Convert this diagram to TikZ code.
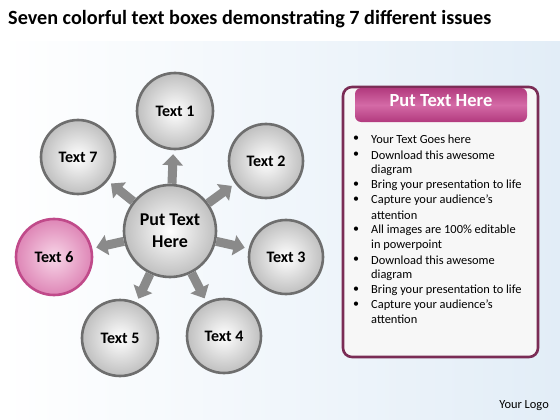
\documentclass[tikz,border=0pt]{standalone}
\usepackage{fontspec}
\setmainfont{Carlito}
\usetikzlibrary{arrows.meta}
\definecolor{ring}{HTML}{6E6E6E}
\definecolor{pinkring}{HTML}{C04A8A}
\definecolor{pinkin}{HTML}{F8D6E8}
\definecolor{pinkout}{HTML}{DE86B6}
\definecolor{maroon}{HTML}{7A2C55}
\definecolor{hdrA}{HTML}{B23A7E}
\definecolor{hdrB}{HTML}{D46AA6}
\definecolor{arrowgray}{HTML}{8A8A8A}
\definecolor{bgblue}{HTML}{E2EDF7}
\tikzset{
  bub/.style={circle, minimum size=#1, inner sep=0pt, draw=ring, line width=2.6pt,
    inner color=white, outer color=gray!50, align=center,
    font=\bfseries\fontsize{16}{18}\selectfont},
  pinkbub/.style={bub=#1, draw=pinkring, inner color=pinkin, outer color=pinkout},
  arr/.style={draw=arrowgray, line width=9pt,
    -{Triangle[width=20pt,length=11pt]}, shorten >=4pt, shorten <=0pt},
  bl/.style={anchor=west, inner sep=0pt, font=\fontsize{12.4}{14}\selectfont},
  dot/.style={anchor=center, inner sep=0pt, font=\fontsize{12}{14}\selectfont}
}
\begin{document}
\begin{tikzpicture}[x=1pt,y=-1pt]
\useasboundingbox (0,0) rectangle (560,420);
\fill[white] (0,0) rectangle (560,420);
\shade[left color=white, right color=bgblue] (0,42) rectangle (560,420);
\node[anchor=west, inner sep=0pt, font=\bfseries\fontsize{20.2}{23}\selectfont] (title) at (8,19)
  {Seven colorful text boxes demonstrating 7 different issues};

% circles
\node[bub=92pt, font=\bfseries\fontsize{18}{22}\selectfont] (c) at (170,231) {Put Text\\Here};
\node[bub=76pt] (t1) at (175,111) {Text 1};
\node[bub=74pt] (t2) at (266,161) {Text 2};
\node[bub=74pt] (t3) at (286,257) {Text 3};
\node[bub=74pt] (t4) at (224,336) {Text 4};
\node[bub=76pt] (t5) at (120,338) {Text 5};
\node[pinkbub=76pt] (t6) at (54,257) {Text 6};
\node[bub=74pt] (t7) at (78,157) {Text 7};

\foreach \t in {t1,t2,t3,t4,t5,t6,t7} \draw[arr] (c) -- (\t);

% right panel
\draw[maroon, line width=2.6pt, fill=gray!6, rounded corners=9pt] (343,87) rectangle (538,357);
\shade[rounded corners=6pt, top color=hdrA, bottom color=hdrA, middle color=hdrB] (355,88) rectangle (527,122);
\node[text=white, font=\bfseries\fontsize{18.5}{21}\selectfont] (hdr) at (441,101) {Put Text Here};

\foreach \y/\txt/\b in {139/Your Text Goes here/1, 155/Download this awesome/1, 170/diagram/0,
  185/Bring your presentation to life/1, 200/Capture your audience’s/1, 215/attention/0,
  230/All images are 100\% editable/1, 245/in powerpoint/0, 260/Download this awesome/1,
  275/diagram/0, 290/Bring your presentation to life/1, 305/Capture your audience’s/1, 319/attention/0}{
  \node[bl] at (371,\y) {\txt};
  \ifnum\b=1 \node[dot] at (356,\y) {•}; \fi
}
\node[anchor=east, inner sep=0pt, font=\fontsize{12.4}{14}\selectfont] (logo) at (549,406) {Your Logo};
\end{tikzpicture}
\end{document}
